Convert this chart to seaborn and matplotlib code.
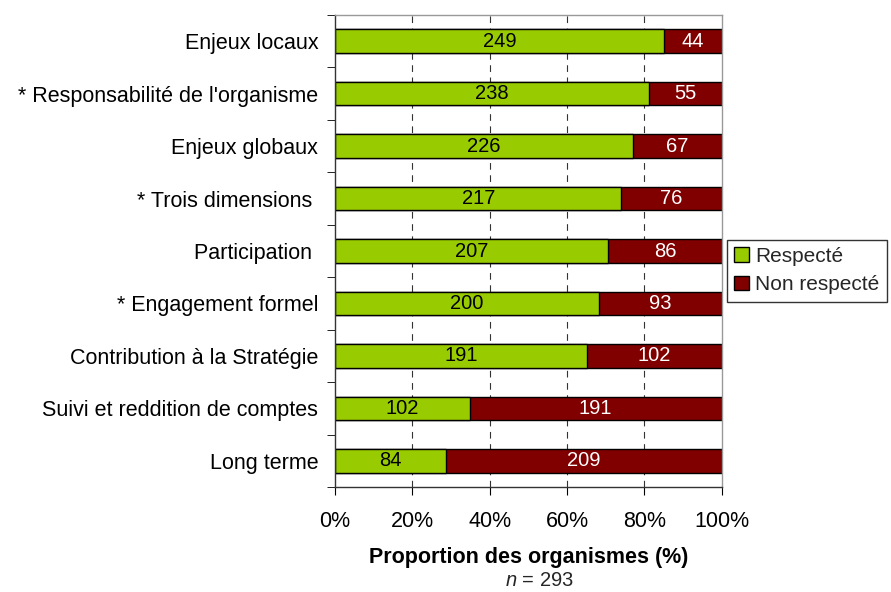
import pandas as pd
import matplotlib.pyplot as plt
import seaborn as sns
from matplotlib.patches import Patch
from matplotlib.ticker import PercentFormatter, FixedLocator

# Data (counts of organisations, n = 293)
categories = ["Enjeux locaux", "* Responsabilité de l'organisme", "Enjeux globaux",
              "* Trois dimensions ", "Participation ", "* Engagement formel",
              "Contribution à la Stratégie", "Suivi et reddition de comptes", "Long terme"]
respecte = [249, 238, 226, 217, 207, 200, 191, 102, 84]
non_respecte = [44, 55, 67, 76, 86, 93, 102, 191, 209]
n_total = 293

data = pd.DataFrame({"Principe": categories, "Respecté": respecte, "Non respecté": non_respecte})
data["pct_ok"] = data["Respecté"] / n_total * 100
data["pct_total"] = (data["Respecté"] + data["Non respecté"]) / n_total * 100

sns.set_style("white")
plt.rcParams["font.family"] = ["Liberation Sans", "DejaVu Sans"]
plt.rcParams["mathtext.fontset"] = "custom"
plt.rcParams["mathtext.rm"] = "Liberation Sans"
plt.rcParams["mathtext.it"] = "Liberation Sans:italic"

green = "#99cc00"
red = "#800000"
fs = 15.5

fig = plt.figure(figsize=(8.91, 5.92), dpi=100)
ax = fig.add_axes([0.376, 0.177, 0.434, 0.798])

# full bar (red) then green part over it
sns.barplot(data=data, x="pct_total", y="Principe", color=red, width=0.45,
            edgecolor="black", linewidth=1, saturation=1, ax=ax)
sns.barplot(data=data, x="pct_ok", y="Principe", color=green, width=0.45,
            edgecolor="black", linewidth=1, saturation=1, ax=ax)

# value labels
for i, row in data.iterrows():
    ax.text(row["pct_ok"] / 2, i, str(row["Respecté"]), ha="center", va="center",
            fontsize=14.5, color="black")
    ax.text((row["pct_ok"] + row["pct_total"]) / 2, i, str(row["Non respecté"]),
            ha="center", va="center", fontsize=14.5, color="white")

ax.set_xlim(0, 100)
ax.set_ylim(len(categories) - 0.5, -0.5)
ax.set_xticks([0, 20, 40, 60, 80, 100])
ax.xaxis.set_major_formatter(PercentFormatter(decimals=0))
ax.tick_params(axis="x", labelsize=fs, pad=11, direction="out", length=6,
               bottom=True, color="black")
ax.tick_params(axis="y", labelsize=fs, pad=12, length=0)
ax.yaxis.set_minor_locator(FixedLocator([i + 0.5 for i in range(-1, len(categories))]))
ax.tick_params(axis="y", which="minor", left=True, direction="out", length=6, color="black")
for t in ax.get_xticklabels() + ax.get_yticklabels():
    t.set_color("black")

# dashed vertical grid
for x in [20, 40, 60, 80]:
    ax.axvline(x, color="#333333", linestyle=(0, (6, 5)), linewidth=0.8, zorder=0)

for s in ["top", "right"]:
    ax.spines[s].set_color("#999999")
for s in ["left", "bottom"]:
    ax.spines[s].set_color("#333333")
for s in ax.spines.values():
    s.set_linewidth(1)

ax.set_xlabel("Proportion des organismes (%)", fontsize=fs, fontweight="bold",
              labelpad=11, color="black")
ax.set_ylabel("")
fig.text(0.605, 0.004, "$n$ = 293", ha="center", va="bottom", fontsize=14.5)

handles = [Patch(facecolor=green, edgecolor="black", label="Respecté"),
           Patch(facecolor=red, edgecolor="black", label="Non respecté")]
fig.legend(handles=handles, loc="center left", bbox_to_anchor=(0.816, 0.543),
           frameon=True, fancybox=False, edgecolor="black", fontsize=15,
           handlelength=0.7, handleheight=0.7, handletextpad=0.3,
           borderpad=0.35, labelspacing=0.45, borderaxespad=0)

fig.savefig("out.png", dpi=100)
